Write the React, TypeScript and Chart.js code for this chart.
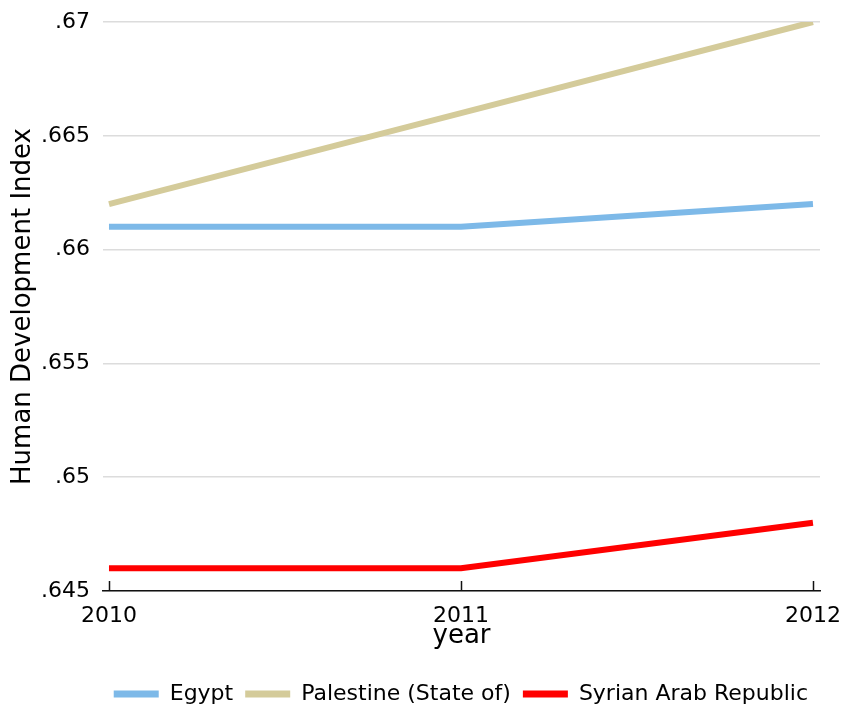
import React, { useEffect, useRef } from "react";
import { Chart, registerables } from "chart.js";

Chart.register(...registerables);

const years = [2010, 2011, 2012];
const xTickLabels = ["2010", "2011", "2012"];
const egypt = [0.661, 0.661, 0.662];
const palestine = [0.662, 0.666, 0.67];
const syria = [0.646, 0.646, 0.648];
const yTicks = [0.645, 0.65, 0.655, 0.66, 0.665, 0.67];
const yTickLabels = [".645", ".65", ".655", ".66", ".665", ".67"];
const seriesNames = ["Egypt", "Palestine (State of)", "Syrian Arab Republic"];
const seriesColors = ["#7DB9E8", "#D4CB9A", "#FF0000"];

const FONT = "'DejaVu Sans', Verdana, sans-serif";

const inwardTicks = {
  id: "inwardTicks",
  afterDraw(chart: any) {
    const x = chart.scales.x;
    const ctx = chart.ctx;
    const bottom = chart.chartArea.bottom;
    ctx.save();
    ctx.strokeStyle = "#111";
    ctx.lineWidth = 1.5;
    years.forEach((yr) => {
      const px = Math.round(x.getPixelForValue(yr)) + 0.5;
      ctx.beginPath();
      ctx.moveTo(px, bottom);
      ctx.lineTo(px, bottom - 10);
      ctx.stroke();
    });
    ctx.restore();
  },
};

export default function App() {
  const ref = useRef<HTMLCanvasElement | null>(null);

  useEffect(() => {
    if (!ref.current) return;
    const mk = (vals: number[]) => years.map((yr, i) => ({ x: yr, y: vals[i] }));
    const allData = [egypt, palestine, syria];
    const chart = new Chart(ref.current, {
      type: "line",
      data: {
        datasets: allData.map((vals, i) => ({
          label: seriesNames[i],
          data: mk(vals),
          borderColor: seriesColors[i],
          backgroundColor: seriesColors[i],
          borderWidth: 6,
          pointRadius: 0,
          tension: 0,
          borderCapStyle: "butt" as const,
        })),
      },
      options: {
        animation: false,
        responsive: false,
        devicePixelRatio: 1,
        layout: { padding: { top: 22, right: 23, left: 0, bottom: -11 } },
        plugins: {
          tooltip: { enabled: false },
          legend: {
            position: "bottom",
            align: "end",
            labels: {
              font: { family: FONT, size: 22 },
              color: "#000",
              boxWidth: 45,
              boxHeight: 7,
              padding: 12,
              generateLabels: (c: any) =>
                c.data.datasets.map((d: any, i: number) => ({
                  text: d.label,
                  fillStyle: seriesColors[i],
                  strokeStyle: seriesColors[i],
                  lineWidth: 0,
                  hidden: false,
                  datasetIndex: i,
                  fontColor: "#000",
                })),
            },
          },
        },
        scales: {
          x: {
            type: "linear",
            min: 2009.983,
            max: 2012.02,
            afterBuildTicks: (s: any) => {
              s.ticks = years.map((v) => ({ value: v }));
            },
            afterFit: (s: any) => {
              s.height = 80;
              s.paddingLeft = 0;
              s.paddingRight = 0;
            },
            ticks: {
              font: { family: FONT, size: 22 },
              color: "#000",
              padding: 12,
              maxRotation: 0,
              autoSkip: false,
              callback: (v: any) => {
                const i = years.indexOf(Number(v));
                return i >= 0 ? xTickLabels[i] : "";
              },
            },
            grid: { display: true, drawOnChartArea: false, drawTicks: false },
            border: { display: true, color: "#111", width: 1.5 },
            title: {
              display: true,
              text: "year",
              font: { family: FONT, size: 26 },
              color: "#000",
              padding: { top: 0, bottom: 19 },
            },
          },
          y: {
            type: "linear",
            min: 0.645,
            max: 0.67,
            afterBuildTicks: (s: any) => {
              s.ticks = yTicks.map((v) => ({ value: v }));
            },
            afterFit: (s: any) => {
              s.width = 103;
              s.paddingTop = 0;
              s.paddingBottom = 0;
            },
            ticks: {
              font: { family: FONT, size: 22 },
              color: "#000",
              padding: 13,
              autoSkip: false,
              callback: (v: any) => {
                const i = yTicks.findIndex((t) => Math.abs(t - Number(v)) < 1e-9);
                return i >= 0 ? yTickLabels[i] : "";
              },
            },
            grid: { color: "#DCDCDC", lineWidth: 1.5, drawTicks: false },
            border: { display: false },
            title: {
              display: true,
              text: "Human Development Index",
              font: { family: FONT, size: 26 },
              color: "#000",
              padding: { top: 8, bottom: 0 },
            },
          },
        },
      },
      plugins: [inwardTicks],
    } as any);
    return () => chart.destroy();
  }, []);

  return (
    <div style={{ position: "absolute", left: 0, top: 0, width: 843, height: 704, background: "#fff" }}>
      <canvas ref={ref} width={843} height={704} style={{ width: 843, height: 704 }} />
    </div>
  );
}
